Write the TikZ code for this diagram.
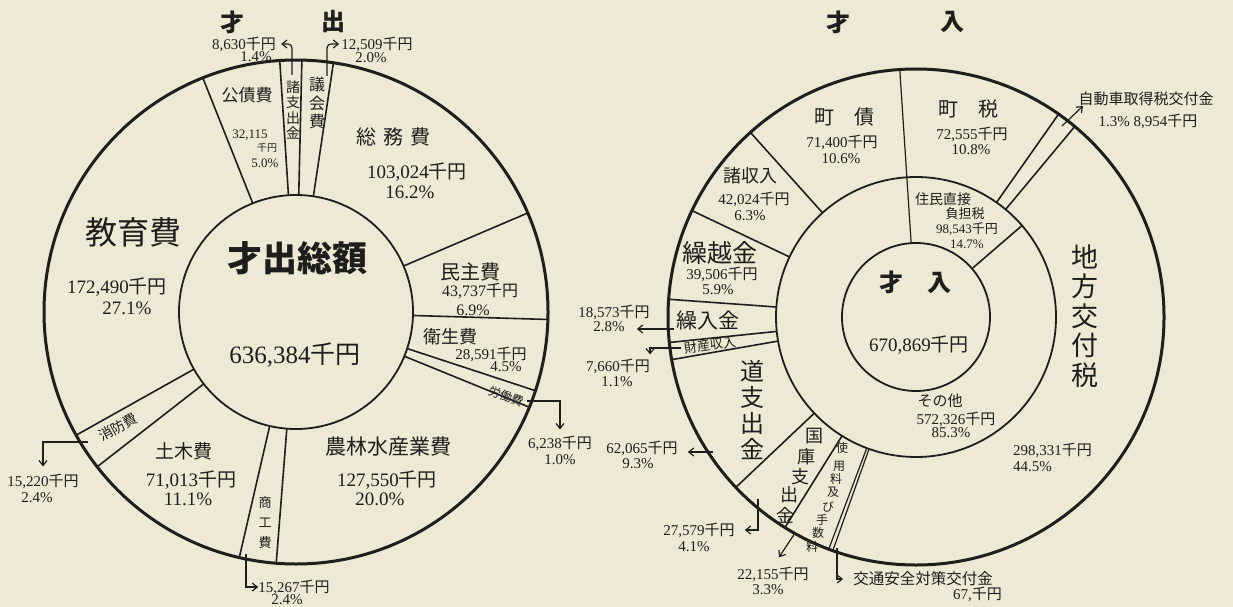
\documentclass[tikz,border=0pt]{standalone}
\usepackage{fontspec}
\setmainfont{Liberation Serif}
\usetikzlibrary{arrows.meta}
\newfontfamily\jp{Noto Sans CJK JP}
\newcommand{\senyen}{{\jp 千円}}
\newcommand{\jpsize}[2]{\jp\fontsize{#1}{#2}\selectfont}
\newcommand{\numsize}[1]{\fontsize{#1}{#1}\selectfont}
\definecolor{paper}{RGB}{237,233,212}
\definecolor{ink}{RGB}{30,30,28}
\tikzset{
  rim/.style={line width=3pt, draw=ink},
  hub/.style={line width=1.8pt, draw=ink},
  cut/.style={line width=1.6pt, draw=ink},
  word/.style={inner sep=0pt, text=ink, align=center},
  pointer/.style={line width=1.2pt, draw=ink, -{Straight Barb[length=5pt,width=8pt]}},
}

\begin{document}
\begin{tikzpicture}[x=1pt, y=-1pt]
	\fill[paper] (0,0) rectangle (1233,607);
	\useasboundingbox (0,0) rectangle (1233,607);
	% expenditure chart
	\begin{scope}[shift={(296,312)}]
	  \draw[rim] (0,0) circle[radius=252pt];
	  \draw[hub] (0,0) circle[radius=117pt];
	  \draw[cut] (-93.7:117) -- (-93.7:252);
	  \draw[cut] (-88.66:117) -- (-88.66:252);
	  \draw[cut] (-81.46:117) -- (-81.46:252);
	  \draw[cut] (-23.14:117) -- (-23.14:252);
	  \draw[cut] (1.7:117) -- (1.7:252);
	  \draw[cut] (18.2:117) -- (18.2:252);
	  \draw[cut] (22.2:117) -- (22.2:252);
	  \draw[cut] (94.5:117) -- (94.5:252);
	  \draw[cut] (103:117) -- (103:252);
	  \draw[cut] (142.1:117) -- (142.1:252);
	  \draw[cut] (150.74:117) -- (150.74:252);
	  \draw[cut] (248.3:117) -- (248.3:252);
	\end{scope}
	\node[word, font={\jpsize{24}{24}\bfseries}] (outA) at (232,22) {才};
	\node[word, font={\jpsize{24}{24}\bfseries}] (outB) at (333,22) {出};
	\node[word, font={\jpsize{35}{35}\bfseries}] (total) at (297,258) {才出総額};
	\node[word, font=\numsize{25}] (totalA) at (295,355) {636,384\senyen};
	\node[word, font={\jpsize{32}{32}}] (kyoiku) at (133,232) {教育費};
	\node[word, font=\numsize{19}] (kyoikuA) at (117,287) {172,490\senyen};
	\node[word, font=\numsize{19}] (kyoikuB) at (127,308) {27.1\%};
	\node[word, font={\jpsize{17}{17}}] (kosai) at (247,95) {公債費};
	\node[word, font=\numsize{13}] (kosaiA) at (250,135) {32,115};
	\node[word, font={\jpsize{10}{10}}] (kosaiB) at (267,148) {千円};
	\node[word, font=\numsize{13}] (kosaiC) at (265,163) {5.0\%};
	\node[word, font={\jpsize{14}{15.5}}] (shoshi) at (293,110) {諸\\支\\出\\金};
	\node[word, font={\jpsize{16}{18.5}}] (gikai) at (317,103) {議\\会\\費};
	\node[word, font=\numsize{15}] (shoshiA) at (244,44) {8,630\senyen};
	\node[word, font=\numsize{15}] (shoshiB) at (256,57) {1.4\%};
	\node[word, font=\numsize{15}] (gikaiA) at (377,44) {12,509\senyen};
	\node[word, font=\numsize{15}] (gikaiB) at (371,58) {2.0\%};
	\node[word, font={\jpsize{20}{20}}] (somu) at (393,137) {総\hspace{0.35em}務\hspace{0.35em}費};
	\node[word, font=\numsize{19}] (somuA) at (417,172) {103,024\senyen};
	\node[word, font=\numsize{19}] (somuB) at (410,192) {16.2\%};
	\node[word, font={\jpsize{20}{20}}] (minsei) at (470,272) {民主費};
	\node[word, font=\numsize{16}] (minseiA) at (480,291) {43,737\senyen};
	\node[word, font=\numsize{16}] (minseiB) at (473,310) {6.9\%};
	\node[word, font={\jpsize{18}{18}}] (eisei) at (450,337) {衛生費};
	\node[word, font=\numsize{15}] (eiseiA) at (491,354) {28,591\senyen};
	\node[word, font=\numsize{15}] (eiseiB) at (506,367) {4.5\%};
	\node[word, font={\jpsize{12}{12}}, rotate=-20] (rodo) at (506,396) {労働費};
	\node[word, font=\numsize{15}] (rodoA) at (560,443) {6,238\senyen};
	\node[word, font=\numsize{15}] (rodoB) at (560,460) {1.0\%};
	\node[word, font={\jpsize{21}{21}}] (norin) at (388,447) {農林水産業費};
	\node[word, font=\numsize{19}] (norinA) at (387,480) {127,550\senyen};
	\node[word, font=\numsize{19}] (norinB) at (380,499) {20.0\%};
	\node[word, font={\jpsize{13}{20}}] (shoko) at (265,523) {商\\工\\費};
	\node[word, font=\numsize{15}] (shokoA) at (294,587) {15,267\senyen};
	\node[word, font=\numsize{15}] (shokoB) at (287,600) {2.4\%};
	\node[word, font={\jpsize{19}{19}}] (doboku) at (184,451) {土木費};
	\node[word, font=\numsize{19}] (dobokuA) at (191,480) {71,013\senyen};
	\node[word, font=\numsize{19}] (dobokuB) at (188,499) {11.1\%};
	\node[word, font={\jpsize{14}{14}}, rotate=29] (shobo) at (118,427) {消防費};
	\node[word, font=\numsize{15}] (shoboA) at (43,481) {15,220\senyen};
	\node[word, font=\numsize{15}] (shoboB) at (37,498) {2.4\%};
	\coordinate (sShoshi) at (292,75);
	\coordinate (sGikai) at (327,76);
	\coordinate (sRodo) at (527,401);
	\coordinate (sShoko) at (246,554);
	\coordinate (sShobo) at (88,442);
	\draw[pointer, rounded corners=4pt, shorten >=5pt] (sShoshi) |- (shoshiA.east);
	\draw[pointer, rounded corners=4pt, shorten >=2pt] (sGikai) |- (gikaiA.west);
	\draw[pointer, shorten >=6pt] (sRodo) -| (rodoA.north);
	\draw[pointer] (sShoko) |- (shokoA.west);
	\draw[pointer, shorten >=7pt] (sShobo) -| (shoboA.north);
	% revenue chart
	\begin{scope}[shift={(916,317)}]
	  \draw[rim] (0,0) circle[radius=248pt];
	  \draw[hub] (0,0) circle[radius=140pt];
	  \draw[hub] (0,0) circle[radius=74pt];
	  \draw[cut, line width=1.2pt] (-93.75:74) -- (-93.75:248);
	  \draw[cut] (-40.8:74) -- (-40.8:140);
	  \draw[cut] (-54.9:140) -- (-54.9:248);
	  \draw[cut] (-50.2:140) -- (-50.2:248);
	  \draw[cut, line width=1.2pt] (109.6:140) -- (109.6:248);
	  \draw[cut, line width=1.2pt] (110.6:140) -- (110.6:248);
	  \draw[cut] (121.9:140) -- (121.9:248);
	  \draw[cut] (136.6:140) -- (136.6:248);
	  \draw[cut] (170.1:140) -- (170.1:248);
	  \draw[cut] (174.1:140) -- (174.1:248);
	  \draw[cut] (184.1:140) -- (184.1:248);
	  \draw[cut] (205.4:140) -- (205.4:248);
	  \draw[cut] (228.1:140) -- (228.1:248);
	\end{scope}
	\node[word, font={\jpsize{24}{24}\bfseries}] (inA) at (838,22) {才};
	\node[word, font={\jpsize{24}{24}\bfseries}] (inB) at (952,22) {入};
	\node[word, font={\jpsize{24}{24}\bfseries}] (sainyu) at (915,282) {才\hspace{1em}入};
	\node[word, font=\numsize{19}] (sainyuA) at (919,345) {670,869\senyen};
	\node[word, font={\jpsize{20}{20}}] (chosai) at (844,117) {町\hspace{1em}債};
	\node[word, font=\numsize{15}] (chosaiA) at (842,142) {71,400\senyen};
	\node[word, font=\numsize{15}] (chosaiB) at (841,159) {10.6\%};
	\node[word, font={\jpsize{20}{20}}] (chozei) at (968,109) {町\hspace{1em}税};
	\node[word, font=\numsize{15}] (chozeiA) at (972,134) {72,555\senyen};
	\node[word, font=\numsize{15}] (chozeiB) at (971,150) {10.8\%};
	\node[word, font={\jpsize{18}{18}}] (shoshu) at (750,176) {諸収入};
	\node[word, font=\numsize{15}] (shoshuA) at (754,199) {42,024\senyen};
	\node[word, font=\numsize{15}] (shoshuB) at (750,216) {6.3\%};
	\node[word, font={\jpsize{25}{25}}] (kurikoshi) at (720,253) {繰越金};
	\node[word, font=\numsize{15}] (kurikoshiA) at (722,274) {39,506\senyen};
	\node[word, font=\numsize{15}] (kurikoshiB) at (718,290) {5.9\%};
	\node[word, font={\jpsize{21}{21}}] (kuriire) at (708,320) {繰入金};
	\node[word, font=\numsize{15}] (kuriireA) at (614,312) {18,573\senyen};
	\node[word, font=\numsize{15}] (kuriireB) at (609,327) {2.8\%};
	\node[word, font={\jpsize{13}{13}}, rotate=8] (zaisan) at (710,345) {財産収入};
	\node[word, font=\numsize{15}] (zaisanA) at (618,366) {7,660\senyen};
	\node[word, font=\numsize{15}] (zaisanB) at (617,382) {1.1\%};
	\node[word, font={\jpsize{24}{26}}] (doshi) at (752,410) {道\\支\\出\\金};
	\node[word, font=\numsize{15}] (doshiA) at (642,448) {62,065\senyen};
	\node[word, font=\numsize{15}] (doshiB) at (638,464) {9.3\%};
	\node[word, font={\jpsize{18}{18}}] (kokko1) at (814,436) {国};
	\node[word, font={\jpsize{18}{18}}] (kokko2) at (806,457) {庫};
	\node[word, font={\jpsize{18}{18}}] (kokko3) at (800,477) {支};
	\node[word, font={\jpsize{18}{18}}] (kokko4) at (789,495) {出};
	\node[word, font={\jpsize{18}{18}}] (kokko5) at (785,515) {金};
	\node[word, font=\numsize{15}] (kokkoA) at (699,530) {27,579\senyen};
	\node[word, font=\numsize{15}] (kokkoB) at (694,547) {4.1\%};
	\node[word, font={\jpsize{12}{12}}] (shiyo1) at (842,448) {使};
	\node[word, font={\jpsize{12}{12}}] (shiyo2) at (839,466) {用};
	\node[word, font={\jpsize{12}{12}}] (shiyo3) at (836,479) {料};
	\node[word, font={\jpsize{12}{12}}] (shiyo4) at (833,492) {及};
	\node[word, font={\jpsize{12}{12}}] (shiyo5) at (828,507) {び};
	\node[word, font={\jpsize{12}{12}}] (shiyo6) at (822,520) {手};
	\node[word, font={\jpsize{12}{12}}] (shiyo7) at (818,533) {数};
	\node[word, font={\jpsize{12}{12}}] (shiyo8) at (812,547) {料};
	\node[word, font=\numsize{15}] (shiyoA) at (773,574) {22,155\senyen};
	\node[word, font=\numsize{15}] (shiyoB) at (768,590) {3.3\%};
	\node[word, font={\jpsize{15.5}{15.5}}] (kotsu) at (923,579) {交通安全対策交付金};
	\node[word, font=\numsize{15}, anchor=east] (kotsuA) at (1002,594) {67,\senyen};
	\node[word, font={\jpsize{15}{15}}] (sonota) at (940,401) {その他};
	\node[word, font=\numsize{15}] (sonotaA) at (956,419) {572,326\senyen};
	\node[word, font=\numsize{15}] (sonotaB) at (951,433) {85.3\%};
	\node[word, font={\jpsize{14}{14}}] (jumin) at (943,199) {住民直接};
	\node[word, font={\jpsize{13}{13}}] (juminA) at (965,214) {負担税};
	\node[word, font=\numsize{13}] (juminB) at (967,229) {98,543\senyen};
	\node[word, font=\numsize{13}] (juminC) at (967,244) {14.7\%};
	\node[word, font={\jpsize{27}{29.5}}] (chiho) at (1085,316) {地\\方\\交\\付\\税};
	\node[word, font=\numsize{15}, anchor=west] (chihoA) at (1013,450) {298,331\senyen};
	\node[word, font=\numsize{15}, anchor=west] (chihoB) at (1013,467) {44.5\%};
	\node[word, font={\jpsize{15}{15}}] (jido) at (1146,99) {自動車取得税交付金};
	\node[word, font=\numsize{15}] (jidoA) at (1148,121) {1.3\% 8,954\senyen};
	\coordinate (sJido) at (1062,126);
	\coordinate (tJido) at (1083,106);
	\coordinate (sKuriire) at (674,329);
	\coordinate (sZaisan) at (681,348);
	\coordinate (sDoshi) at (713,452);
	\coordinate (sKokko) at (758,499);
	\coordinate (sShiyo) at (795,533);
	\coordinate (sKotsu) at (837,548);
	\draw[pointer] (sJido) -- (tJido);
	\draw[pointer, shorten >=12pt] (sKuriire) -- (sKuriire -| kuriireB.east);
	\draw[pointer, shorten >=4pt] (sZaisan) -| (zaisanA.north east);
	\draw[pointer, shorten >=10pt] (sDoshi) -- (sDoshi -| doshiA.east);
	\draw[pointer, shorten >=10pt] (sKokko) |- (kokkoA.east);
	\draw[pointer, shorten >=11pt] (sShiyo) -- (shiyoA.north);
	\draw[pointer, shorten >=10pt] (sKotsu) |- (kotsu.west);
\end{tikzpicture}
\end{document}
